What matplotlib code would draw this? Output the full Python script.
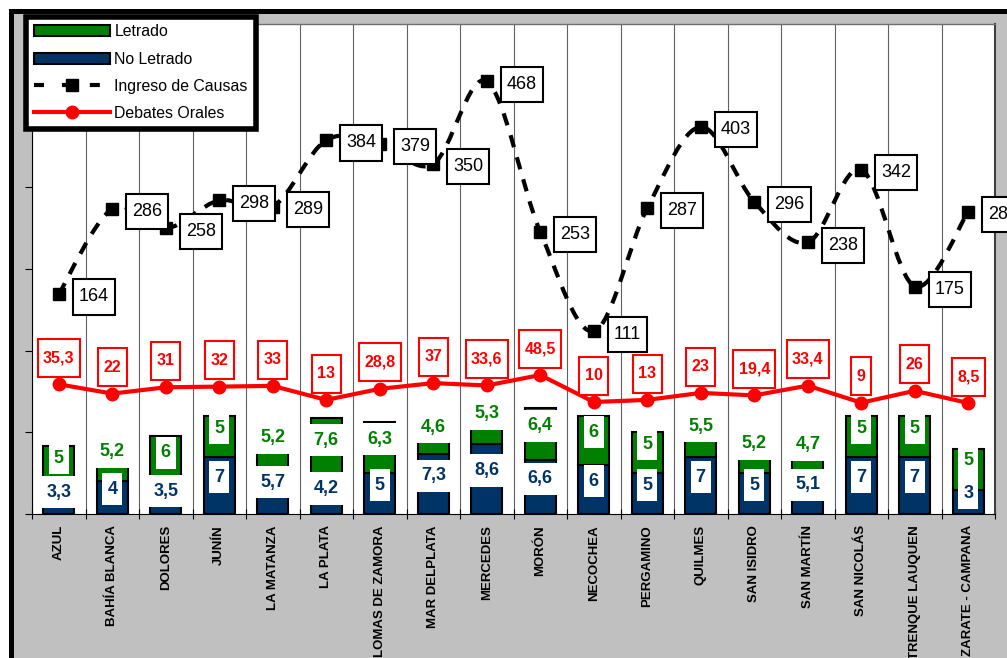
import numpy as np
import matplotlib
matplotlib.use("Agg")
import matplotlib.pyplot as plt
from matplotlib.patches import Rectangle, Patch, PathPatch
from matplotlib.lines import Line2D
from matplotlib.path import Path

plt.rcParams['font.family'] = ['Liberation Sans', 'DejaVu Sans']

categories = ["AZUL", "BAHÍA BLANCA", "DOLORES", "JUNÍN", "LA MATANZA", "LA PLATA",
              "LOMAS DE ZAMORA", "MAR DELPLATA", "MERCEDES", "MORÓN", "NECOCHEA",
              "PERGAMINO", "QUILMES", "SAN ISIDRO", "SAN MARTÍN", "SAN NICOLÁS",
              "TRENQUE LAUQUEN", "ZARATE - CAMPANA"]
letrado = [5, 5.2, 6, 5, 5.2, 7.6, 6.3, 4.6, 5.3, 6.4, 6, 5, 5.5, 5.2, 4.7, 5, 5, 5]
no_letrado = [3.3, 4, 3.5, 7, 5.7, 4.2, 5, 7.3, 8.6, 6.6, 6, 5, 7, 5, 5.1, 7, 7, 3]
ingreso = [164, 286, 258, 298, 289, 384, 379, 350, 468, 253, 111, 287, 403, 296, 238, 342, 175, 282]
debates = [35.3, 22, 31, 32, 33, 13, 28.8, 37, 33.6, 48.5, 10, 13, 23, 19.4, 33.4, 9, 26, 8.5]

GREEN = '#008000'
NAVY = '#003366'
RED = '#FF0000'


def fmt(v):
    return f"{v:g}".replace('.', ',')


def padbox(px, py):
    """Rectangular box style with separate horizontal / vertical padding."""
    def f(x0, y0, width, height, mutation_size):
        dx = px * mutation_size
        dy = py * mutation_size
        x0, y0 = x0 - dx, y0 - dy
        x1, y1 = x0 + width + 2 * dx, y0 + height + 2 * dy
        return Path([(x0, y0), (x1, y0), (x1, y1), (x0, y1), (x0, y0)],
                    [Path.MOVETO, Path.LINETO, Path.LINETO, Path.LINETO, Path.CLOSEPOLY])
    return f


W, H = 1007, 658
fig = plt.figure(figsize=(W / 100, H / 100), dpi=100, facecolor='white')

# outer frame: white margin, black border, gray background
fig.patches.append(Rectangle((9 / W, 0), 1, 1 - 9 / H, transform=fig.transFigure,
                             facecolor='black', edgecolor='none', zorder=-10))
fig.patches.append(Rectangle((14 / W, 0), 1, 1 - 14 / H, transform=fig.transFigure,
                             facecolor='#C0C0C0', edgecolor='none', zorder=-9))

ax = fig.add_axes([32 / W, 144 / H, 963 / W, 490 / H])
ax.set_facecolor('white')
x = np.arange(len(categories))

ax.bar(x, no_letrado, width=0.58, color=NAVY, edgecolor='black', linewidth=1.5, zorder=3)
ax.bar(x, letrado, width=0.58, bottom=no_letrado, color=GREEN, edgecolor='black',
       linewidth=1.5, zorder=3)

ax.set_xlim(-0.5, len(categories) - 0.5)
ax.set_ylim(0, 60)
ax.set_yticks(range(0, 61, 10))
ax.set_yticklabels([])
ax.tick_params(axis='y', direction='out', length=5, width=0.8)

ax.set_xticks(x)
ax.set_xticklabels(categories, rotation=90, fontsize=9.5, fontweight='bold', va='top')
ax.tick_params(axis='x', which='major', length=0, pad=8)
ax.set_xticks(np.arange(-0.5, len(categories)), minor=True)
ax.tick_params(axis='x', which='minor', direction='inout', length=7, width=0.8)
ax.grid(which='minor', axis='x', color='#606060', linewidth=0.8, zorder=0)
ax.set_axisbelow(True)

for s in ['left', 'bottom']:
    ax.spines[s].set_color('black')
    ax.spines[s].set_linewidth(0.8)
ax.spines['top'].set_color('#707070')
ax.spines['top'].set_linewidth(1)
ax.spines['right'].set_color('#404040')
ax.spines['right'].set_linewidth(1.5)

# bar labels
for i in range(len(categories)):
    ax.annotate(fmt(no_letrado[i]), (x[i], no_letrado[i] / 2), xytext=(0, 6),
                textcoords='offset points', ha='center', va='center', fontsize=13,
                fontweight='bold', color=NAVY, zorder=6,
                bbox=dict(boxstyle=padbox(0.28, 0.42), fc='white', ec='none'))
    ax.annotate(fmt(letrado[i]), (x[i], no_letrado[i] + letrado[i] / 2), xytext=(0, 6),
                textcoords='offset points', ha='center', va='center', fontsize=13,
                fontweight='bold', color=GREEN, zorder=6,
                bbox=dict(boxstyle=padbox(0.28, 0.42), fc='white', ec='none'))

ax2 = ax.twinx()
ax2.set_ylim(-150, 550)
ax2.set_yticks([])
for s in ax2.spines.values():
    s.set_visible(False)

# smoothed dashed line for Ingreso de Causas (Catmull-Rom -> Bezier)
pts = np.column_stack([x, ingreso]).astype(float)
verts = [pts[0]]
codes = [Path.MOVETO]
n = len(pts)
for i in range(n - 1):
    p0 = pts[i - 1] if i > 0 else pts[i]
    p1 = pts[i]
    p2 = pts[i + 1]
    p3 = pts[i + 2] if i + 2 < n else pts[i + 1]
    c1 = p1 + (p2 - p0) / 6.0
    c2 = p2 - (p3 - p1) / 6.0
    verts += [c1, c2, p2]
    codes += [Path.CURVE4] * 3
ax2.add_patch(PathPatch(Path(verts, codes), fill=False, edgecolor='black', linewidth=3,
                        linestyle=(0, (3, 2.5)), capstyle='butt', zorder=3))
ax2.plot(x, ingreso, linestyle='none', marker='s', markersize=8, color='black', zorder=4)

ax2.plot(x, debates, color=RED, linewidth=3, marker='o', markersize=9, zorder=4)

for i in range(len(categories)):
    ax2.annotate(str(ingreso[i]), (x[i], ingreso[i]), xytext=(14.5, -2),
                 textcoords='offset points', ha='left', va='center', fontsize=13,
                 color='black', zorder=7, annotation_clip=False,
                 bbox=dict(boxstyle=padbox(0.33, 0.5), fc='white', ec='black', lw=1.5))
    ax2.annotate(fmt(debates[i]), (x[i], debates[i]), xytext=(0, 19),
                 textcoords='offset points', ha='center', va='center', fontsize=11.5,
                 fontweight='bold', color=RED, zorder=7,
                 bbox=dict(boxstyle=padbox(0.34, 0.72), fc='white', ec=RED, lw=1.5))

handles = [Patch(facecolor=GREEN, edgecolor='black', linewidth=1.5),
           Patch(facecolor=NAVY, edgecolor='black', linewidth=1.5),
           Line2D([], [], color='black', linewidth=3, linestyle=(0, (2.4, 4.3)), marker='s',
                  markersize=9),
           Line2D([], [], color=RED, linewidth=3, marker='o', markersize=9)]
labels = ["Letrado", "No Letrado", "Ingreso de Causas", "Debates Orales"]
leg = fig.legend(handles, labels, loc='upper left', bbox_to_anchor=(26.5 / W, 1 - 16.5 / H),
                 frameon=True, fancybox=False, edgecolor='black', facecolor='white',
                 framealpha=1, fontsize=11.4, handlelength=4.8, handletextpad=0.25,
                 labelspacing=0.77, borderpad=0.5, borderaxespad=0, numpoints=1)
leg.get_frame().set_linewidth(4)
leg.set_zorder(20)

fig.savefig("out.png", dpi=100, facecolor=fig.get_facecolor())
